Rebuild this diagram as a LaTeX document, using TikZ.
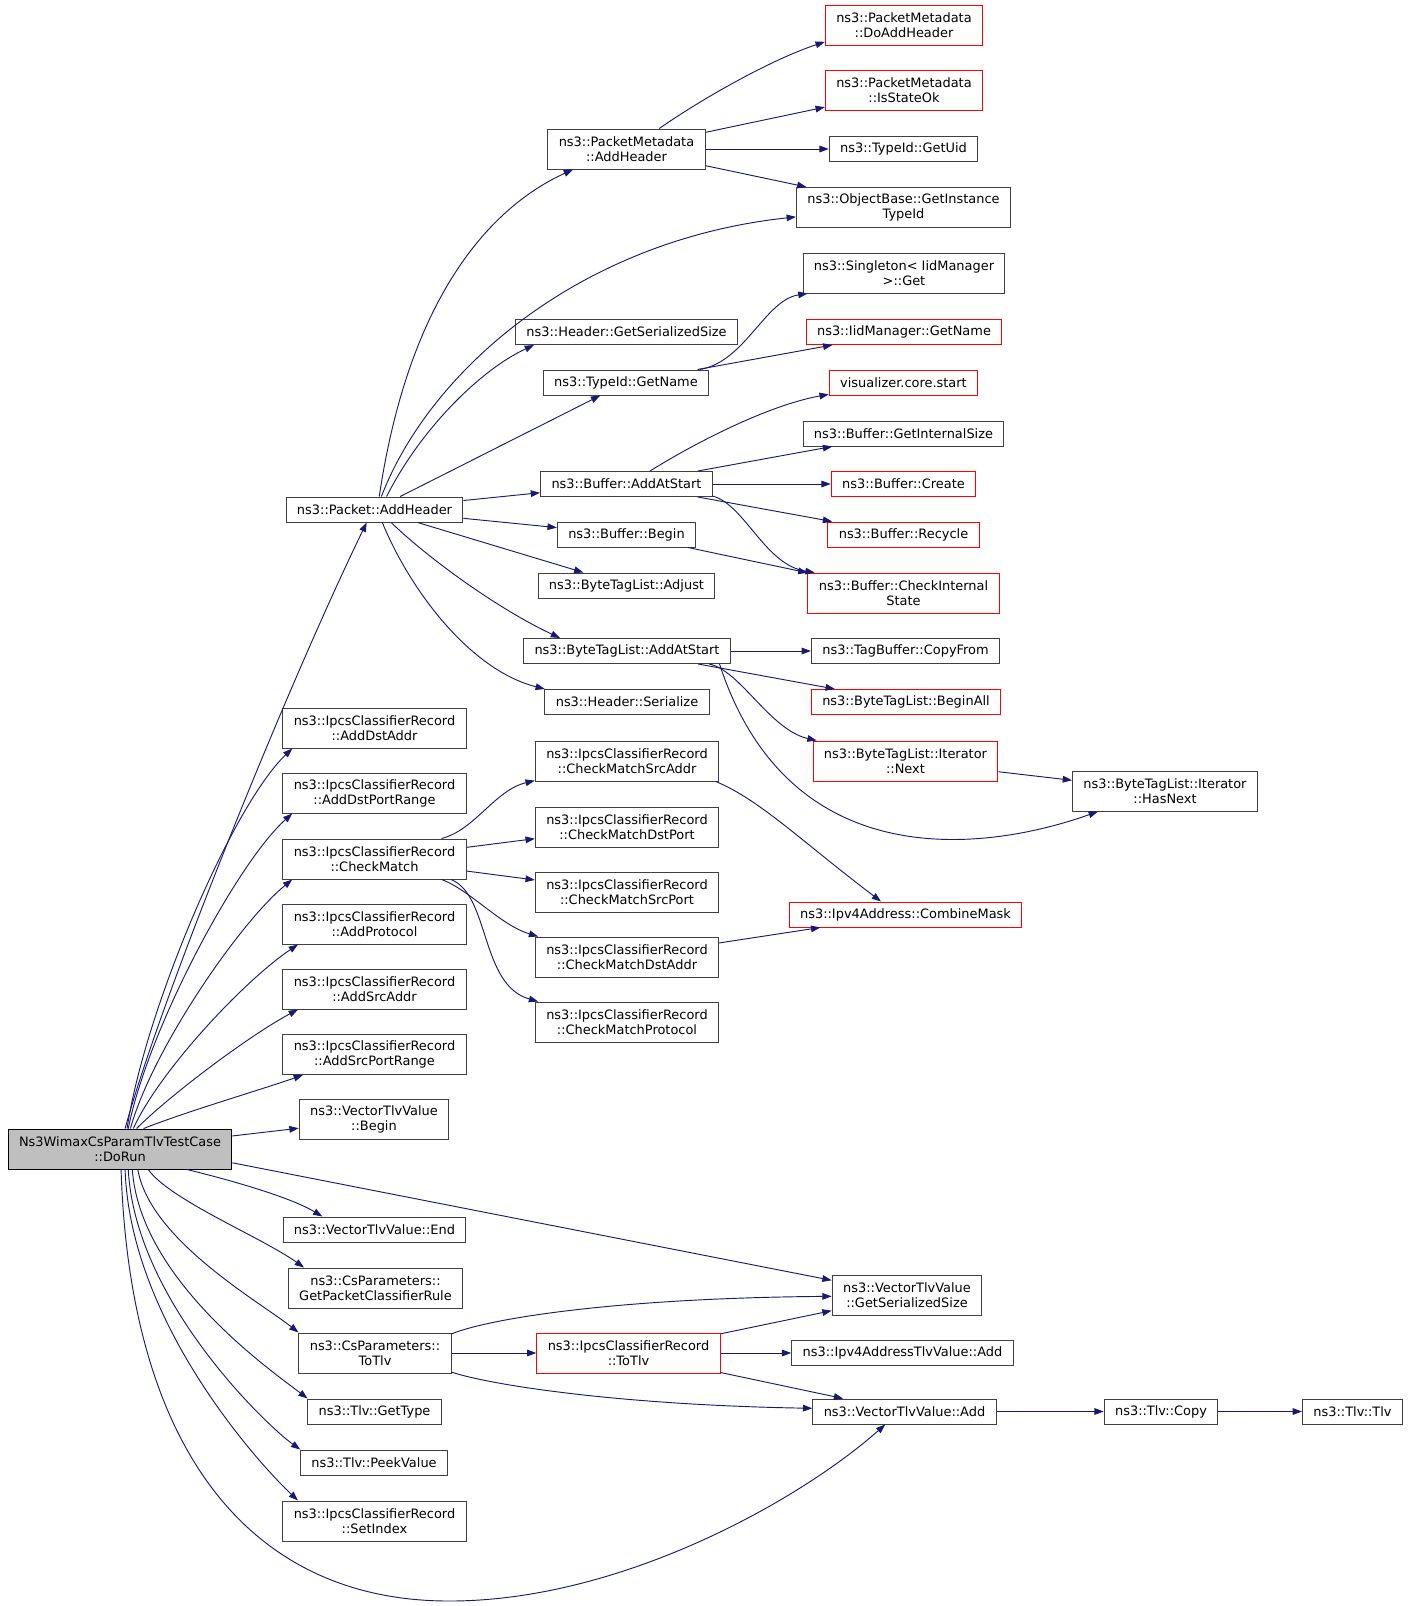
\documentclass[tikz,border=0pt]{standalone}
\usepackage{fontspec}
\setmainfont{DejaVu Sans}
\usepackage{tikz}
\usetikzlibrary{arrows.meta}
\definecolor{edgeblue}{HTML}{191970}
\definecolor{boxgrey}{HTML}{404040}
\definecolor{rootfill}{HTML}{BFBFBF}
\tikzstyle{fn}=[draw=boxgrey, line width=0.75pt, fill=white, minimum height=18.75pt, inner xsep=8.2pt, inner ysep=1pt, align=center, font=\fontsize{9.7}{11.25}\selectfont]
\tikzstyle{fnred}=[fn, draw=red]
\tikzstyle{fnroot}=[fn, draw=black, fill=rootfill]
\tikzstyle{tall}=[minimum height=30pt]
\tikzstyle{call}=[color=edgeblue, line width=0.7pt, -{Triangle[length=7pt, width=5pt]}]

\begin{document}
\begin{tikzpicture}[x=0.75pt, y=-0.75pt]
		   \useasboundingbox (0, 0) rectangle (1408, 1606);
		   \begin{scope}
			   \node (root) at (120, 1149)[fnroot, tall] {Ns3WimaxCsParamTlvTestCase\\::DoRun};

			   \node (pah) at (374.5, 509.5)[fn] {ns3::Packet::AddHeader};
			   \node (adda) at (374.5, 728)[fn, tall] {ns3::IpcsClassifierRecord\\::AddDstAddr};
			   \node (adpr) at (374.5, 793)[fn, tall] {ns3::IpcsClassifierRecord\\::AddDstPortRange};
			   \node (cm) at (374.5, 859)[fn, tall] {ns3::IpcsClassifierRecord\\::CheckMatch};
			   \node (apr) at (374.5, 924)[fn, tall] {ns3::IpcsClassifierRecord\\::AddProtocol};
			   \node (asa) at (374.5, 989)[fn, tall] {ns3::IpcsClassifierRecord\\::AddSrcAddr};
			   \node (aspr) at (374.5, 1054.5)[fn, tall] {ns3::IpcsClassifierRecord\\::AddSrcPortRange};
			   \node (vbeg) at (374, 1119.5)[fn, tall] {ns3::VectorTlvValue\\::Begin};
			   \node (vend) at (374.5, 1229.5)[fn] {ns3::VectorTlvValue::End};
			   \node (gpcr) at (375.5, 1288)[fn, tall] {ns3::CsParameters::\\GetPacketClassifierRule};
			   \node (cstotlv) at (375, 1353)[fn, tall] {ns3::CsParameters::\\ToTlv};
			   \node (gettype) at (374.5, 1411.5)[fn] {ns3::Tlv::GetType};
			   \node (peek) at (374, 1462.5)[fn] {ns3::Tlv::PeekValue};
			   \node (setidx) at (374.5, 1521)[fn, tall] {ns3::IpcsClassifierRecord\\::SetIndex};

			   \node (pmah) at (626.5, 149)[fn, tall] {ns3::PacketMetadata\\::AddHeader};
			   \node (hgss) at (626.5, 332)[fn] {ns3::Header::GetSerializedSize};
			   \node (tgn) at (626, 382.5)[fn] {ns3::TypeId::GetName};
			   \node (baas) at (626.5, 484)[fn] {ns3::Buffer::AddAtStart};
			   \node (bbeg) at (626.5, 534.5)[fn] {ns3::Buffer::Begin};
			   \node (btadj) at (626.5, 585.5)[fn] {ns3::ByteTagList::Adjust};
			   \node (btaas) at (627, 651)[fn] {ns3::ByteTagList::AddAtStart};
			   \node (hser) at (627, 702)[fn] {ns3::Header::Serialize};
			   \node (cmsa) at (627, 761)[fn, tall] {ns3::IpcsClassifierRecord\\::CheckMatchSrcAddr};
			   \node (cmdp) at (627, 827)[fn, tall] {ns3::IpcsClassifierRecord\\::CheckMatchDstPort};
			   \node (cmsp) at (627, 892)[fn, tall] {ns3::IpcsClassifierRecord\\::CheckMatchSrcPort};
			   \node (cmda) at (627, 957)[fn, tall] {ns3::IpcsClassifierRecord\\::CheckMatchDstAddr};
			   \node (cmpr) at (627, 1022)[fn, tall] {ns3::IpcsClassifierRecord\\::CheckMatchProtocol};
			   \node (icrtotlv) at (628.5, 1353)[fnred, tall] {ns3::IpcsClassifierRecord\\::ToTlv};

			   \node (pmdah) at (904, 25)[fnred, tall] {ns3::PacketMetadata\\::DoAddHeader};
			   \node (pmiso) at (904, 90.5)[fnred, tall] {ns3::PacketMetadata\\::IsStateOk};
			   \node (tguid) at (903.5, 149)[fn] {ns3::TypeId::GetUid};
			   \node (obgit) at (903.5, 207.5)[fn, tall] {ns3::ObjectBase::GetInstance\\TypeId};
			   \node (sing) at (904, 273)[fn, tall] {ns3::Singleton< IidManager\\>::Get};
			   \node (imgn) at (904, 332)[fnred] {ns3::IidManager::GetName};
			   \node (vcs) at (903.5, 382.5)[fnred] {visualizer.core.start};
			   \node (bgis) at (903.5, 433.5)[fn] {ns3::Buffer::GetInternalSize};
			   \node (bcr) at (903.5, 484)[fnred] {ns3::Buffer::Create};
			   \node (brec) at (903.5, 534.5)[fnred] {ns3::Buffer::Recycle};
			   \node (bcis) at (903.5, 593)[fnred, tall] {ns3::Buffer::CheckInternal\\State};
			   \node (tbcf) at (905.5, 651)[fn] {ns3::TagBuffer::CopyFrom};
			   \node (btba) at (906, 702)[fnred] {ns3::ByteTagList::BeginAll};
			   \node (btnext) at (905.5, 761)[fnred, tall] {ns3::ByteTagList::Iterator\\::Next};
			   \node (cmask) at (905.5, 914.5)[fnred] {ns3::Ipv4Address::CombineMask};
			   \node (vgss) at (907, 1295)[fn, tall] {ns3::VectorTlvValue\\::GetSerializedSize};
			   \node (i4add) at (902.5, 1353)[fn] {ns3::Ipv4AddressTlvValue::Add};
			   \node (vadd) at (904.5, 1411.5)[fn] {ns3::VectorTlvValue::Add};

			   \node (hasnext) at (1165, 791)[fn, tall] {ns3::ByteTagList::Iterator\\::HasNext};
			   \node (tlvcopy) at (1161, 1411.5)[fn] {ns3::Tlv::Copy};
			   \node (tlvtlv) at (1352.5, 1411.5)[fn] {ns3::Tlv::Tlv};

			   \coordinate (dip) at (447, 1601);
		   \end{scope}
		   \begin{scope}
			   % calls of DoRun
			   \draw [call] (root.76) .. controls (160, 1000) and (290, 680) .. (pah.239);
			   \draw [call] (root.71) .. controls (145, 1010) and (232, 806) .. (adda.194.5);
			   \draw [call] (root.68) .. controls (148, 1029) and (237, 863) .. (adpr.194.5);
			   \draw [call] (root.63) .. controls (152, 1050) and (240, 922) .. (cm.194.7);
			   \draw [call] (root.57) .. controls (160, 1070) and (245, 980) .. (apr.195);
			   \draw [call] (root.51) .. controls (170, 1095) and (250, 1035) .. (asa.195.6);
			   \draw [call] (root.41) .. controls (185, 1112) and (260, 1090) .. (aspr.196.8);
			   \path [call] (root) edge (vbeg);
			   \path [call] (root.-7) edge (vgss);
			   \draw [call] (root.-17) .. controls (230, 1180) and (290, 1197) .. (vend.166.6);
			   \draw [call] (root.-36.5) .. controls (170, 1200) and (261, 1237) .. (gpcr.164);
			   \draw [call] (root.-49.6) .. controls (150, 1240) and (260, 1302) .. (cstotlv.165);
			   \draw [call] (root.-59) .. controls (140, 1280) and (273, 1372) .. (gettype.169.4);
			   \draw [call] (root.-68) .. controls (135, 1300) and (266, 1425) .. (peek.170.3);
			   \draw [call] (root.-76) .. controls (130, 1320) and (256, 1461) .. (setidx.165.7);
			   \draw [call] (root.-87) .. controls (130, 1450) and (250, 1600) .. (dip) .. controls (620, 1602) and (800, 1500) .. (vadd.214);

			   % calls of Packet::AddHeader
			   \draw [call] (pah.70) .. controls (410, 290) and (495, 205) .. (pmah.201.2);
			   \draw [call] (pah.62.5) .. controls (430, 370) and (580, 240) .. (obgit.185.1);
			   \draw [call] (pah.47.4) .. controls (420, 430) and (480, 370) .. (hgss.188.1);
			   \path [call] (pah) edge (tgn);
			   \path [call] (pah) edge (baas);
			   \path [call] (pah) edge (bbeg);
			   \path [call] (pah) edge (btadj);
			   \draw [call] (pah.-38.9) .. controls (430, 560) and (500, 610) .. (btaas.169);
			   \draw [call] (pah.-59) .. controls (410, 590) and (470, 670) .. (hser.171);

			   \draw [call] (pmah.32.4) .. controls (700, 100) and (770, 60) .. (pmdah.192.8);
			   \path [call] (pmah) edge (pmiso);
			   \path [call] (pmah) edge (tguid);
			   \path [call] (pmah) edge (obgit);

			   \draw [call] (tgn.10) .. controls (745, 362) and (765, 300) .. (sing.192.4);
			   \path [call] (tgn) edge (imgn);

			   \draw [call] (baas.29) .. controls (700, 440) and (770, 405) .. (vcs.189.7);
			   \path [call] (baas) edge (bgis);
			   \path [call] (baas) edge (bcr);
			   \path [call] (baas) edge (brec);
			   \draw [call] (baas.-8.2) .. controls (745, 505) and (765, 565) .. (bcis.167.9);
			   \path [call] (bbeg) edge (bcis);

			   \path [call] (btaas) edge (tbcf);
			   \path [call] (btaas) edge (btba);
			   \draw [call] (btaas.-9.5) .. controls (740, 670) and (770, 730) .. (btnext.167.8);
			   \draw [call] (btaas.-8.5) .. controls (790, 880) and (990, 850) .. (hasnext.197.1);
			   \path [call] (btnext) edge (hasnext);

			   % calls of CheckMatch
			   \draw [call] (cm.17) .. controls (475, 830) and (495, 790) .. (cmsa.192.9);
			   \path [call] (cm) edge (cmdp);
			   \path [call] (cm) edge (cmsp);
			   \draw [call] (cm.-17.7) .. controls (470, 890) and (500, 925) .. (cmda.167.5);
			   \draw [call] (cm.-15.4) .. controls (490, 895) and (480, 985) .. (cmpr.167.5);
			   \draw [call] (cmsa.-13.2) .. controls (760, 800) and (800, 840) .. (cmask.152);
			   \path [call] (cmda) edge (cmask);

			   % calls of ToTlv
			   \draw [call] (cstotlv.14.7) .. controls (490, 1318) and (620, 1298) .. (vgss.181);
			   \path [call] (cstotlv) edge (icrtotlv);
			   \draw [call] (cstotlv.-14.7) .. controls (490, 1385) and (620, 1405) .. (vadd.178.4);
			   \path [call] (icrtotlv) edge (vgss);
			   \path [call] (icrtotlv) edge (i4add);
			   \path [call] (icrtotlv) edge (vadd);
			   \path [call] (vadd) edge (tlvcopy);
			   \path [call] (tlvcopy) edge (tlvtlv);
		   \end{scope}
	   \end{tikzpicture}
\end{document}
